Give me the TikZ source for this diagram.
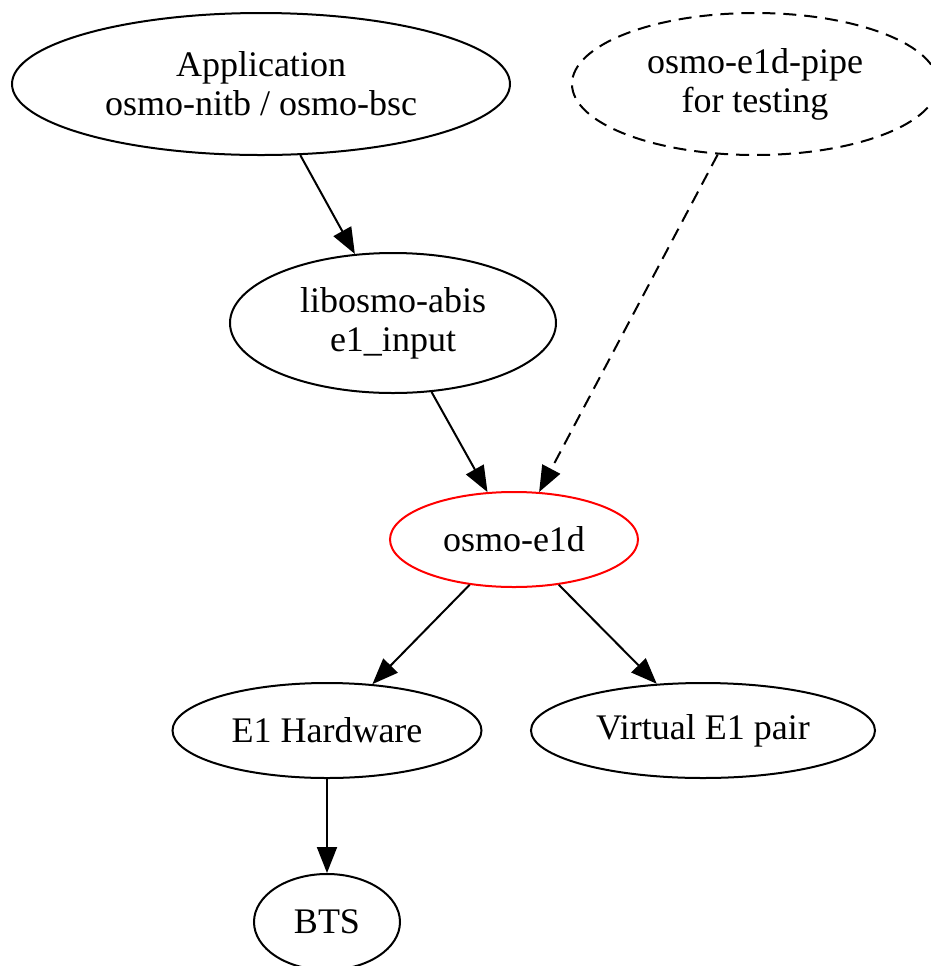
\documentclass[tikz,border=0pt]{standalone}
\usepackage{fontspec}
\setmainfont{Liberation Serif}
\usepackage{tikz}
\usetikzlibrary{shapes.geometric,arrows.meta}
\tikzset{
	unit/.style={ellipse, draw, line width=1pt, inner sep=0pt, align=center,
		font=\fontsize{18}{19.5}\selectfont},
	edge/.style={line width=1pt, -{Triangle[length=13pt,width=10pt]}},
	dashedge/.style={edge, dash pattern=on 6.5pt off 4pt},
}

\begin{document}
\begin{tikzpicture}[x=0.5pt, y=-0.5pt]
		%%%%% START %%%%%
		\useasboundingbox (0, 0) rectangle (931, 966);
		
		\node[unit, minimum width=249pt, minimum height=71pt] (app) at (261, 84) {Application\\osmo-nitb / osmo-bsc};
		\node[unit, dash pattern=on 6.5pt off 4pt, minimum width=183pt, minimum height=71pt] (pipe) at (755, 84) {osmo-e1d-pipe\\for testing};
		
		\node[unit, minimum width=163pt, minimum height=70pt] (abis) at (393, 323) {libosmo-abis\\e1\_input};
		
		\node[unit, draw=red, minimum width=124pt, minimum height=47.5pt] (e1d) at (514, 539.5) {osmo-e1d};
		
		\node[unit, minimum width=154.5pt, minimum height=47.5pt] (hw) at (327, 730.5) {E1 Hardware};
		\node[unit, minimum width=172pt, minimum height=47.5pt] (virt) at (703, 730.5) {Virtual E1 pair};
		
		\node[unit, minimum width=73pt, minimum height=48pt] (bts) at (327, 922) {BTS};
		
		\draw[edge] (app) -- (abis);
		\draw[edge] (abis) -- (e1d);
		\draw[dashedge] (pipe) -- (e1d);
		\draw[edge] (e1d) -- (hw);
		\draw[edge] (e1d) -- (virt);
		\draw[edge] (hw) -- (bts);
		
		%%%%% END %%%%%
	\end{tikzpicture}
\end{document}
